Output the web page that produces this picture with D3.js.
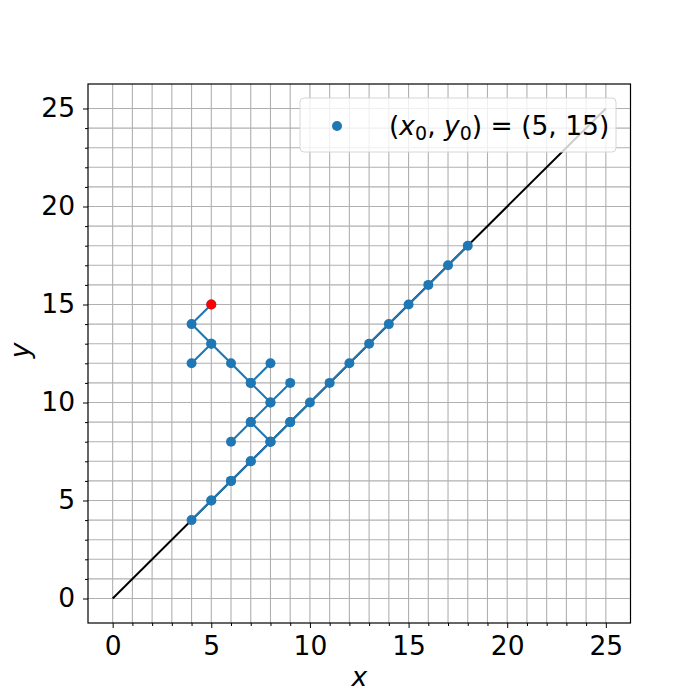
<!DOCTYPE html>
<html><head><meta charset="utf-8">
<script src="https://cdn.jsdelivr.net/npm/d3@7"></script>
<style>body{margin:0;background:#fff;} svg{display:block;}</style>
</head><body>
<svg id="c" width="700" height="700"></svg>
<script>
// Walk order (with backtracking) of the traced points
const pathX = [5,4,5,4,5,6,7,8,7,8,9,8,7,6,7,8,9,8,7,6,5,4,5,6,7,8,9,10,11,12,13,14,15,16,17,18];
const pathY = [15,14,13,12,13,12,11,12,11,10,11,10,9,8,9,8,9,8,7,6,5,4,5,6,7,8,9,10,11,12,13,14,15,16,17,18];
const startPoint = [5, 15];
const diagX = [0, 25];
const diagY = [0, 25];
const tickValues = [0, 5, 10, 15, 20, 25];
const minorValues = d3.range(0, 26);

const svg = d3.select("#c");
const L = 88, T = 84, R = 630.5, B = 623;
const x = d3.scaleLinear().domain([-1.25, 26.25]).range([L, R]);
const y = d3.scaleLinear().domain([-1.25, 26.25]).range([B, T]);
const font = "DejaVu Sans, sans-serif";
const FS = 26.5;

// grid
const g = svg.append("g");
g.selectAll(".gx").data(minorValues).enter().append("line")
  .attr("x1", d => x(d)).attr("x2", d => x(d)).attr("y1", T).attr("y2", B)
  .attr("stroke", "#b0b0b0").attr("stroke-width", 1.1);
g.selectAll(".gy").data(minorValues).enter().append("line")
  .attr("y1", d => y(d)).attr("y2", d => y(d)).attr("x1", L).attr("x2", R)
  .attr("stroke", "#b0b0b0").attr("stroke-width", 1.1);

// diagonal
svg.append("path").datum(diagX.map((d, i) => [d, diagY[i]]))
  .attr("d", d3.line().x(d => x(d[0])).y(d => y(d[1])))
  .attr("fill", "none").attr("stroke", "black").attr("stroke-width", 2);

// walk line
const pts = pathX.map((d, i) => [d, pathY[i]]);
svg.append("path").datum(pts)
  .attr("d", d3.line().x(d => x(d[0])).y(d => y(d[1])))
  .attr("fill", "none").attr("stroke", "#1f77b4").attr("stroke-width", 2.1)
  .attr("stroke-linejoin", "round");
svg.selectAll(".pt").data(pts).enter().append("circle")
  .attr("cx", d => x(d[0])).attr("cy", d => y(d[1])).attr("r", 5)
  .attr("fill", "#1f77b4");
svg.append("circle").attr("cx", x(startPoint[0])).attr("cy", y(startPoint[1]))
  .attr("r", 5).attr("fill", "red");

// axes
const xAxis = d3.axisBottom(x).tickValues(tickValues).tickSize(5).tickPadding(8).tickFormat(d3.format("d"));
const yAxis = d3.axisLeft(y).tickValues(tickValues).tickSize(5).tickPadding(8).tickFormat(d3.format("d"));
const xMinor = d3.axisBottom(x).tickValues(minorValues.filter(d => d % 5 !== 0)).tickSize(3).tickFormat("");
const yMinor = d3.axisLeft(y).tickValues(minorValues.filter(d => d % 5 !== 0)).tickSize(3).tickFormat("");
[[xAxis, `translate(0,${B})`], [xMinor, `translate(0,${B})`], [yAxis, `translate(${L},0)`], [yMinor, `translate(${L},0)`]].forEach(([ax, tr]) => {
  const a = svg.append("g").attr("transform", tr).call(ax).attr("font-size", FS).attr("font-family", font);
  a.select(".domain").remove();
  a.selectAll("line").attr("stroke", "black").attr("stroke-width", 1);
  a.selectAll("text").style("font-size", FS + "px").style("font-family", font).attr("fill", "black");
});
svg.append("rect").attr("x", L).attr("y", T).attr("width", R - L).attr("height", B - T)
  .attr("fill", "none").attr("stroke", "black").attr("stroke-width", 1.2);

// axis labels
svg.append("text").attr("x", (L + R) / 2).attr("y", 686).attr("text-anchor", "middle")
  .style("font-family", font).style("font-style", "italic").style("font-size", FS + "px").text("x");
svg.append("text").attr("transform", `translate(29,${(T + B) / 2 - 3}) rotate(-90)`).attr("text-anchor", "middle")
  .style("font-family", font).style("font-style", "italic").style("font-size", FS + "px").text("y");

// legend
const lg = svg.append("g");
lg.append("rect").attr("x", 300).attr("y", 98).attr("width", 316).attr("height", 54).attr("rx", 4)
  .attr("fill", "white").attr("fill-opacity", 0.8).attr("stroke", "#d6d6d6").attr("stroke-width", 1);
lg.append("circle").attr("cx", 337).attr("cy", 126).attr("r", 5).attr("fill", "#1f77b4");
const t = lg.append("text").attr("x", 389).attr("y", 135).style("font-family", font).style("font-size", FS + "px");
t.append("tspan").text("(");
t.append("tspan").style("font-style", "italic").text("x");
t.append("tspan").style("font-size", "19px").attr("dy", 5).text("0");
t.append("tspan").attr("dy", -5).text(", ");
t.append("tspan").style("font-style", "italic").text("y");
t.append("tspan").style("font-size", "19px").attr("dy", 5).text("0");
t.append("tspan").attr("dy", -5).text(") = (5, 15)");
</script>
</body></html>
